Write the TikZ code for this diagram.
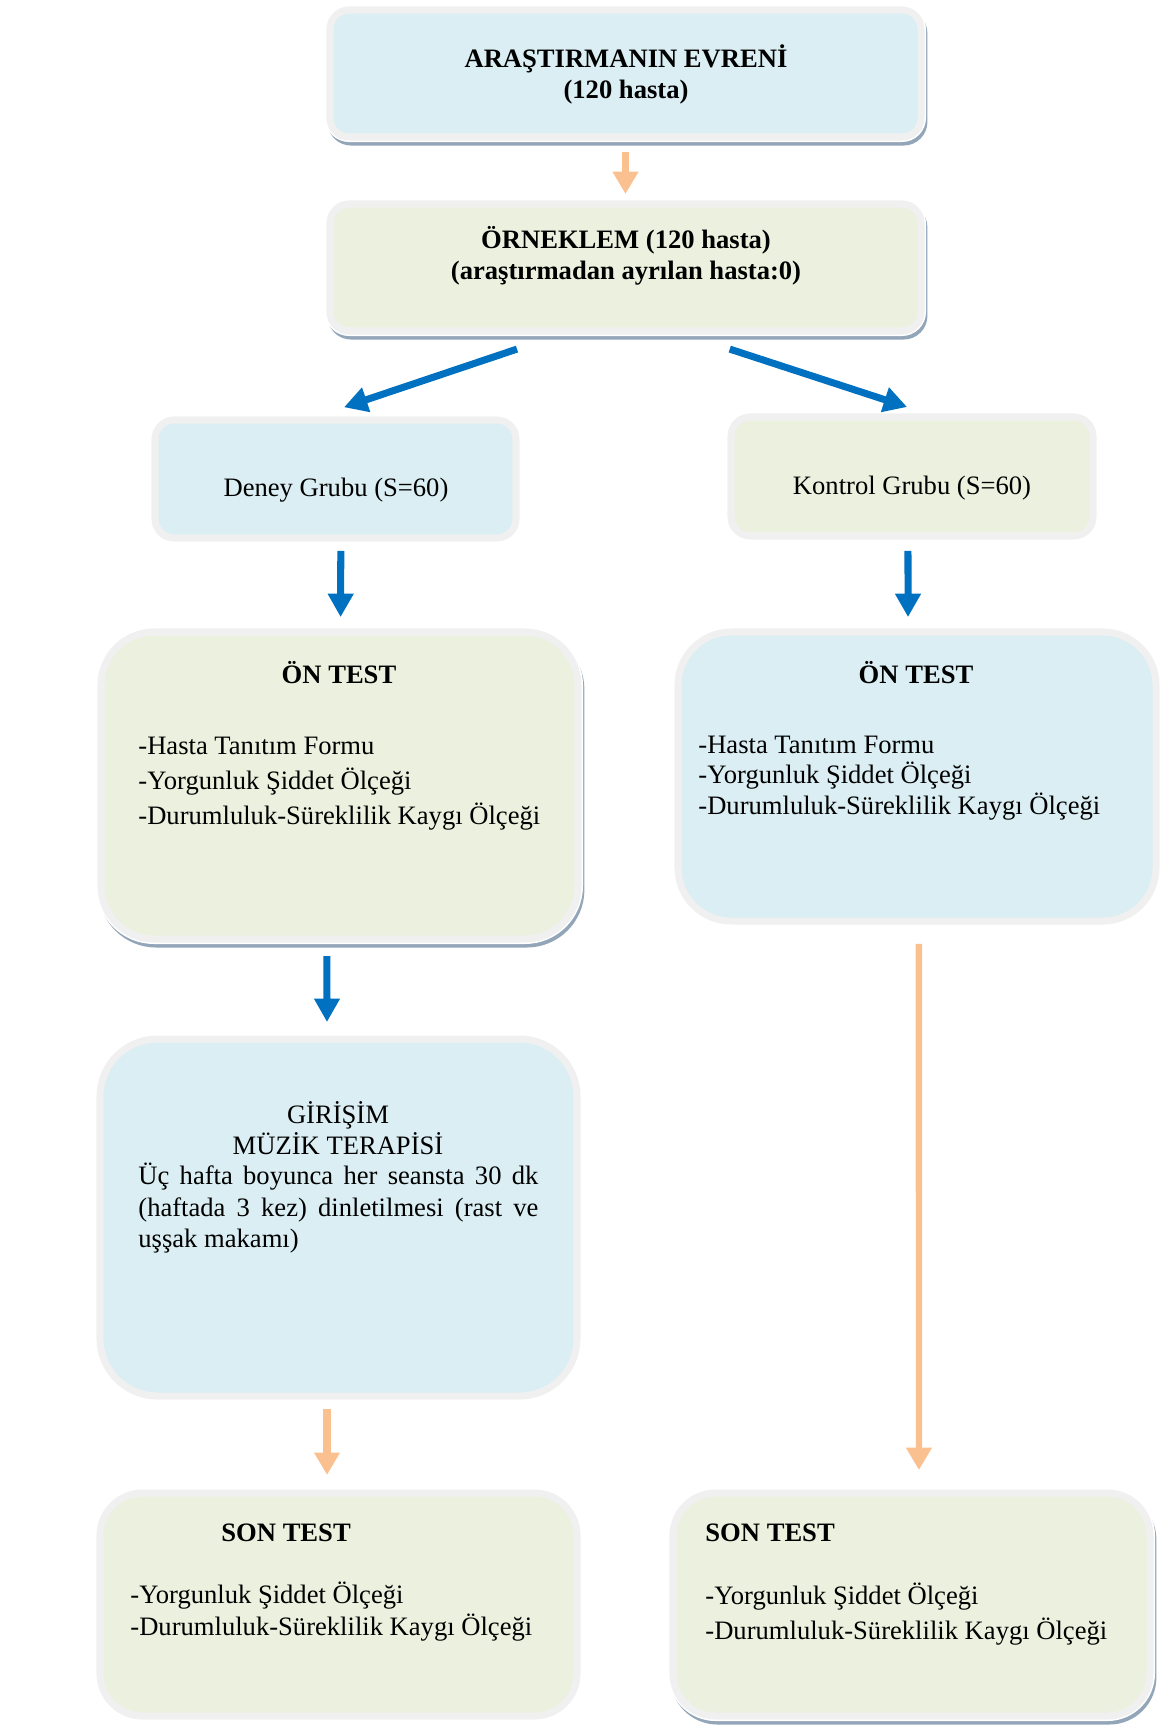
\documentclass[tikz,border=0pt]{standalone}
\usepackage{fontspec}
\setmainfont{Liberation Serif}
\usetikzlibrary{arrows.meta,fit}
\definecolor{boxblue}{HTML}{DAEEF3}
\definecolor{boxgreen}{HTML}{EBF1DE}
\definecolor{boxrim}{HTML}{F0F0F0}
\definecolor{boxshadow}{HTML}{93A5B9}
\definecolor{arrowblue}{HTML}{0070C0}
\definecolor{arroworange}{HTML}{FAC090}

\begin{document}
\begin{tikzpicture}[x=0.47pt,y=-0.47pt,
  box/.style={draw=boxrim,line width=3.3pt,inner sep=0pt,outer sep=0pt,rounded corners=#1},
  box/.default=9pt,
  shadowed/.style={preaction={draw=boxshadow,line width=4.2pt,transform canvas={shift={(0.9pt,-1.9pt)}}},
    preaction={draw=white,line width=4.7pt}},
  txt/.style={font=\fontsize{12.5}{14.6}\selectfont,inner sep=0pt},
  head/.style={txt,font=\fontsize{12.5}{14.6}\selectfont\bfseries,align=center},
  item/.style={txt,anchor=west,text height=8pt,text depth=2.5pt,yshift=-2pt},
  bluearrow/.style={draw=arrowblue,line width=3.3pt,-{Triangle[width=11.5pt,length=11pt]}},
  orangearrow/.style={draw=arroworange,line width=3.6pt,-{Triangle[width=11.5pt,length=10.5pt]}}]
  \useasboundingbox (0,0) rectangle (1165,1727);

  \node[box,fill=boxblue,shadowed,fit={(330,10) (921,137)}] (evren) {};
  \node[box,fill=boxgreen,shadowed,fit={(330,204) (921,331)}] (orn) {};
  \node[box,fill=boxblue,fit={(155,420) (516,538)}] (deney) {};
  \node[box,fill=boxgreen,fit={(731,417) (1093,536)}] (kontrol) {};
  \node[box=25pt,fill=boxgreen,shadowed,fit={(101,632) (578,939)}] (onL) {};
  \node[box=25pt,fill=boxblue,fit={(678,632) (1156,921)}] (onR) {};
  \node[box=27pt,fill=boxblue,fit={(100,1039) (577,1396)}] (gir) {};
  \node[box=20pt,fill=boxgreen,fit={(100,1493) (577,1716)}] (sonL) {};
  \node[box=20pt,fill=boxgreen,shadowed,fit={(673,1493) (1150,1716)}] (sonR) {};

  \node[head] (evrent) at (626,74.5) {ARAŞTIRMANIN EVRENİ\\(120 hasta)};
  \node[head] (ornt) at (626,255.5) {ÖRNEKLEM (120 hasta)\\(araştırmadan ayrılan hasta:0)};
  \node[txt] (deneyt) at (336,490) {Deney Grubu (S=60)};
  \node[txt] (kontrolt) at (912,488) {Kontrol Grubu (S=60)};

  \node[head] (onLt) at (339,673) {ÖN TEST};
  \node[head] (onRt) at (916,673) {ÖN TEST};
  \foreach \y/\t [count=\i] in {744/{-Hasta Tanıtım Formu},779/{-Yorgunluk Şiddet Ölçeği},814/{-Durumluluk-Süreklilik Kaygı Ölçeği}} {
    \node[item] (onL-\i) at (138,\y) {\t};
  }
  \foreach \y/\t [count=\i] in {743/{-Hasta Tanıtım Formu},773/{-Yorgunluk Şiddet Ölçeği},804/{-Durumluluk-Süreklilik Kaygı Ölçeği}} {
    \node[item] (onR-\i) at (698,\y) {\t};
  }

  \node[txt,align=center] (girt) at (338,1128.5) {GİRİŞİM\\MÜZİK TERAPİSİ};
  \node[txt,text width=188pt,align=justify,anchor=north west] (giri) at (138,1163)
    {Üç hafta boyunca her seansta 30 dk\linebreak (haftada 3 kez) dinletilmesi (rast ve\linebreak uşşak makamı)};

  \node[head,anchor=west] (sonLt) at (221,1533) {SON TEST};
  \node[head,anchor=west] (sonRt) at (705,1533) {SON TEST};
  \foreach \y/\t [count=\i] in {1593/{-Yorgunluk Şiddet Ölçeği},1625/{-Durumluluk-Süreklilik Kaygı Ölçeği}} {
    \node[item] (sonL-\i) at (130,\y) {\t};
  }
  \foreach \y/\t [count=\i] in {1594/{-Yorgunluk Şiddet Ölçeği},1629/{-Durumluluk-Süreklilik Kaygı Ölçeği}} {
    \node[item] (sonR-\i) at (705,\y) {\t};
  }

  \draw[orangearrow,shorten <=7pt,shorten >=4.7pt] (evren) -- (orn);
  \draw[bluearrow] ([xshift=-51pt,yshift=-8.5pt]orn.south) -- ([xshift=4pt,yshift=6pt]deney.north);
  \draw[bluearrow] ([xshift=49pt,yshift=-8.5pt]orn.south) -- ([xshift=-2.3pt,yshift=4.7pt]kontrol.north);
  \draw[bluearrow,shorten <=6pt,shorten >=7pt] ([xshift=2.5pt]deney.south) -- ([xshift=0.5pt]onL.north);
  \draw[bluearrow,shorten <=7pt,shorten >=7pt] ([xshift=-1.9pt]kontrol.south) -- ([xshift=-4.2pt]onR.north);
  \draw[bluearrow,shorten <=8pt,shorten >=8pt] ([xshift=-5.9pt]onL.south) -- ([xshift=-5.4pt]gir.north);
  \draw[orangearrow,shorten <=6pt,shorten >=8.5pt] ([xshift=-5.4pt]gir.south) -- ([xshift=-5.4pt]sonL.north);
  \draw[orangearrow,line width=3pt,shorten <=10.8pt,shorten >=10.8pt] ([xshift=0.9pt]onR.south) -- ([xshift=3.5pt]sonR.north);
\end{tikzpicture}
\end{document}
